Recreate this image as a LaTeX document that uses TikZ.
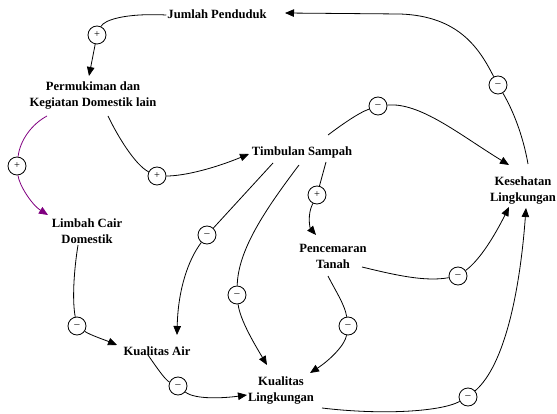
\documentclass[tikz,border=0pt]{standalone}
\usepackage{fontspec}
\setmainfont{Liberation Serif}
\usetikzlibrary{arrows.meta,calc}
\definecolor{lpurple}{RGB}{128,0,128}
\newcommand{\negsign}{\raisebox{-2pt}{--}}
\begin{document}
\begin{tikzpicture}[x=1pt,y=-1pt,
  var/.style={font=\fontsize{12.6}{16}\selectfont\bfseries, align=center, inner sep=0pt},
  sign/.style={circle, draw, line width=0.8pt, minimum size=18pt, inner sep=0pt, fill=white, font=\fontsize{10.5}{10.5}\selectfont},
  lnk/.style={line width=0.8pt},
  arr/.style={line width=0.8pt, -{Triangle[length=9pt,width=7.5pt]}}]
\useasboundingbox (0,0) rectangle (557,414);

% variables
\node[var] (jp)  at (217,14)  {Jumlah Penduduk};
\node[var] (pdk) at (93,96)   {Permukiman dan\\Kegiatan Domestik lain};
\node[var] (ts)  at (302,152) {Timbulan Sampah};
\node[var] (kes) at (523,191) {Kesehatan\\Lingkungan};
\node[var] (lcd) at (87,231)  {Limbah Cair\\Domestik};
\node[var] (pt)  at (333,256) {Pencemaran\\Tanah};
\node[var] (ka)  at (157,351) {Kualitas Air};
\node[var] (kl)  at (281,391) {Kualitas\\Lingkungan};

% polarity markers
\node[sign] (c1)  at (97,35)   {+};
\node[sign] (c2)  at (157,176) {+};
\node[sign] (c3)  at (17,166)  {+};
\node[sign] (c4)  at (378,106) {\negsign};
\node[sign] (c5)  at (498,85)  {\negsign};
\node[sign] (c6)  at (317,195) {+};
\node[sign] (c7)  at (458,276) {\negsign};
\node[sign] (c8)  at (348,326) {\negsign};
\node[sign] (c9)  at (207,235) {\negsign};
\node[sign] (c10) at (237,295) {\negsign};
\node[sign] (c11) at (77,326)  {\negsign};
\node[sign] (c12) at (178,386) {\negsign};
\node[sign] (c13) at (468,397) {\negsign};

% Jumlah Penduduk -> Permukiman
\draw[lnk] ($(jp.west)+(-1,1)$) .. controls (125,13) and (104,20) .. (c1);
\draw[arr] (c1) -- ($(pdk)+(-4,-20)$);

% Permukiman -> Timbulan Sampah
\draw[lnk] ($(pdk)+(15,20)$) .. controls (117,135) and (135,165) .. (c2);
\draw[arr] (c2) .. controls (185,176) and (215,168) .. ($(ts)+(-53,2)$);

% Permukiman -> Limbah Cair Domestik
\draw[lnk,lpurple] ($(pdk)+(-46,20)$) .. controls (32,124) and (20,140) .. (c3);
\draw[arr,lpurple] (c3) .. controls (19,185) and (32,205) .. ($(lcd)+(-39,-16)$);

% Timbulan Sampah -> Kesehatan Lingkungan
\draw[lnk] ($(ts)+(26,-17)$) .. controls (340,126) and (358,113) .. (c4);
\draw[arr] (c4) .. controls (420,102) and (460,135) .. ($(kes)+(-14,-26)$);

% Kesehatan Lingkungan -> Jumlah Penduduk
\draw[lnk] ($(kes)+(5,-27)$) .. controls (522,130) and (510,105) .. (c5);
\draw[arr] (c5) .. controls (480,50) and (460,16) .. (400,14) -- ($(jp)+(68,-1)$);

% Timbulan Sampah -> Pencemaran Tanah
\draw[lnk] ($(ts)+(24,10)$) -- (c6);
\draw[arr] (c6) .. controls (307,215) and (310,228) .. ($(pt)+(-17,-21)$);

% Pencemaran Tanah -> Kesehatan Lingkungan
\draw[lnk] ($(pt)+(29,11)$) .. controls (395,275) and (425,282) .. (c7);
\draw[arr] (c7) .. controls (480,260) and (495,235) .. ($(kes)+(-14,16)$);

% Pencemaran Tanah -> Kualitas Lingkungan
\draw[lnk] ($(pt)+(-5,20)$) .. controls (335,290) and (345,305) .. (c8);
\draw[arr] (c8) .. controls (345,345) and (330,360) .. ($(kl)+(29,-18)$);

% Timbulan Sampah -> Kualitas Air
\draw[lnk] ($(ts)+(-29,11)$) -- (c9);
\draw[arr] (c9) .. controls (188,260) and (178,290) .. ($(ka)+(20,-16)$);

% Timbulan Sampah -> Kualitas Lingkungan
\draw[lnk] ($(ts)+(-3,13)$) .. controls (265,210) and (238,250) .. (c10);
\draw[arr] (c10) .. controls (240,320) and (255,345) .. ($(kl)+(-14,-26)$);

% Limbah Cair Domestik -> Kualitas Air
\draw[lnk] ($(lcd)+(-9,14)$) .. controls (74,270) and (72,300) .. (c11);
\draw[arr] (c11) .. controls (90,335) and (105,340) .. ($(ka)+(-40,-6)$);

% Kualitas Air -> Kualitas Lingkungan
\draw[lnk] ($(ka)+(-9,4)$) .. controls (155,365) and (165,380) .. (c12);
\draw[arr] (c12) .. controls (195,400) and (225,398) .. ($(kl)+(-34,4)$);

% Kualitas Lingkungan -> Kesehatan Lingkungan
\draw[lnk] ($(kl)+(41,17)$) .. controls (380,415) and (440,412) .. (c13);
\draw[arr] (c13) .. controls (505,365) and (520,290) .. ($(kes)+(3,17)$);
\end{tikzpicture}
\end{document}
